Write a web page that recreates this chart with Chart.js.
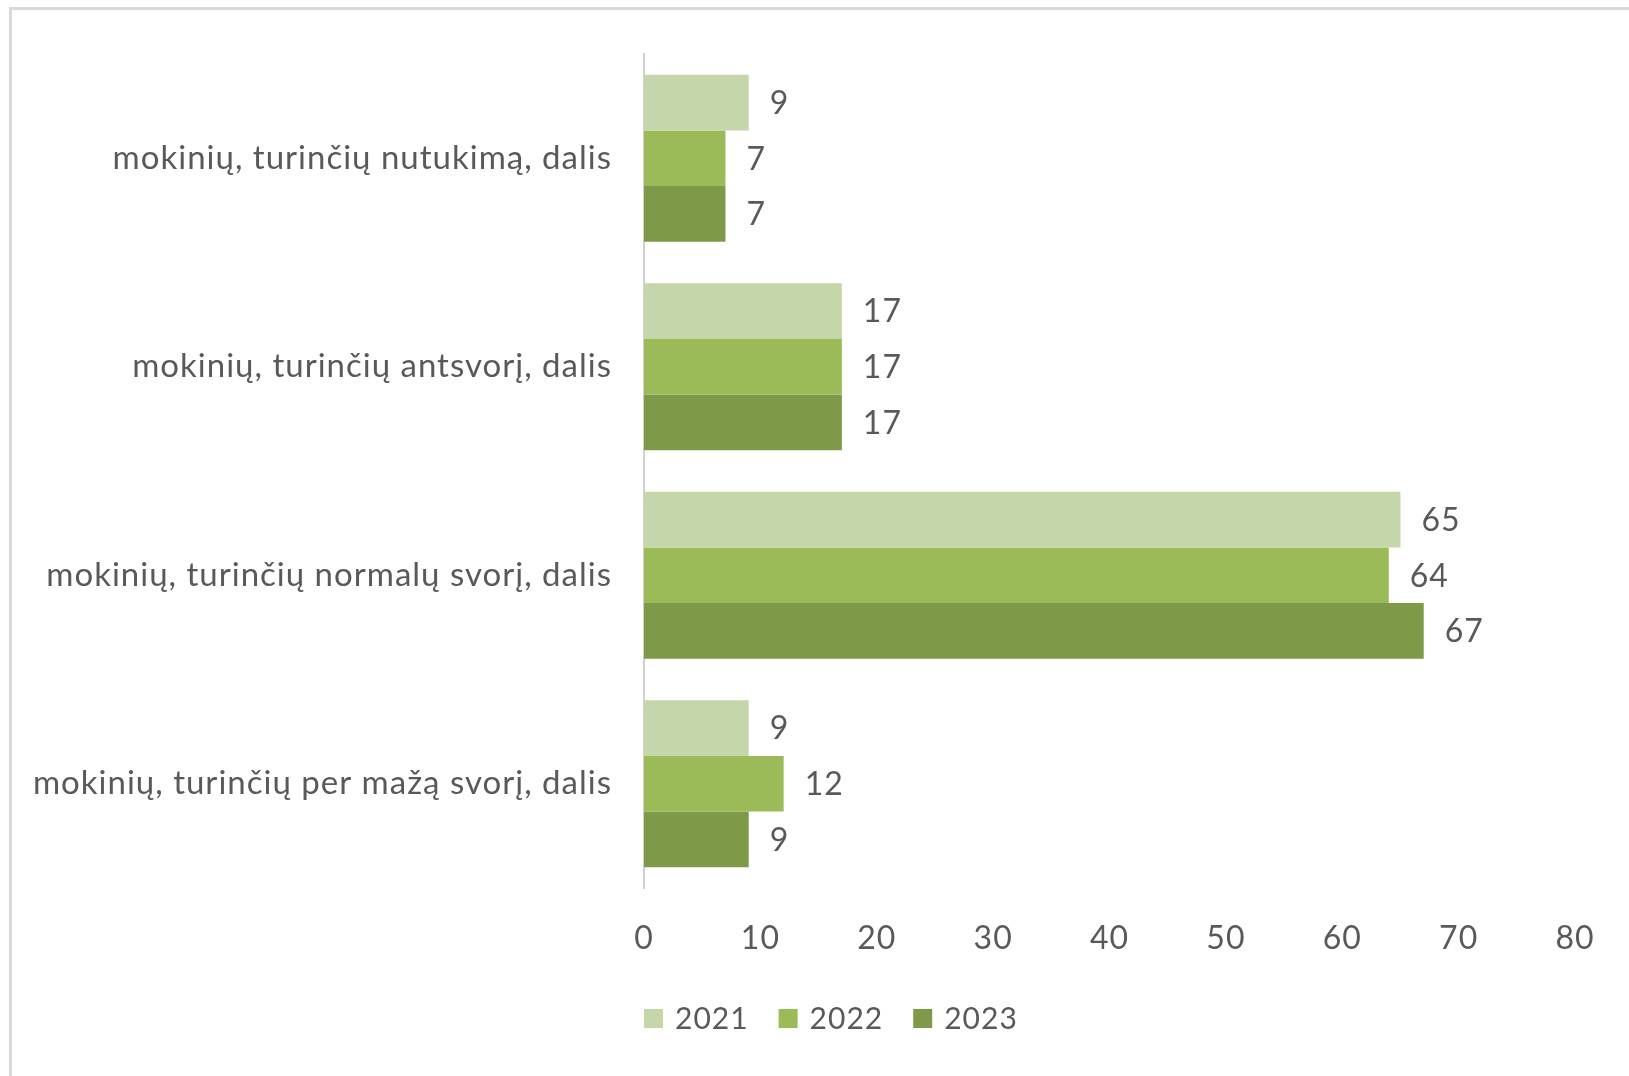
<!DOCTYPE html>
<html>
<head>
<meta charset="utf-8">
<script src="https://cdn.jsdelivr.net/npm/chart.js@4"></script>
<style>
  html, body { margin: 0; padding: 0; background: #fff; overflow: hidden; }
  #frame { position: absolute; left: 9px; top: 7px; width: 1700px; height: 1200px; border: 3px solid #d9d9d9; }
  #wrap { position: absolute; left: 0; top: 0; width: 1629px; height: 1076px; }
</style>
</head>
<body>
<div id="frame"></div>
<div id="wrap"><canvas id="chart"></canvas></div>
<script>
const categories = [
  "mokinių, turinčių nutukimą, dalis",
  "mokinių, turinčių antsvorį, dalis",
  "mokinių, turinčių normalų svorį, dalis",
  "mokinių, turinčių per mažą svorį, dalis"
];
const years = ["2021", "2022", "2023"];
const values2021 = [9, 17, 65, 9];
const values2022 = [7, 17, 64, 12];
const values2023 = [7, 17, 67, 9];
const colors = ["#c5d6ab", "#9bbb59", "#7e9a48"];
const xTicks = [0, 10, 20, 30, 40, 50, 60, 70, 80];

const FONT = "Lato, 'Open Sans', sans-serif";
const TEXT = "#595959";

// slightly spaced letters, closer to the original office font
const spacing = {
  id: "spacing",
  beforeDraw(chart) { chart.ctx.letterSpacing = "1px"; }
};

// value labels to the right of each bar
const valueLabels = {
  id: "valueLabels",
  afterDatasetsDraw(chart) {
    const ctx = chart.ctx;
    ctx.save();
    ctx.font = "32px " + FONT;
    ctx.fillStyle = TEXT;
    ctx.textAlign = "left";
    ctx.textBaseline = "middle";
    chart.data.datasets.forEach((ds, i) => {
      chart.getDatasetMeta(i).data.forEach((bar, j) => {
        ctx.fillText(ds.data[j], bar.x + 21, bar.y + 1);
      });
    });
    ctx.restore();
  }
};

// legend drawn under the axis, starting at the value axis origin
const bottomLegend = {
  id: "bottomLegend",
  afterDraw(chart) {
    const ctx = chart.ctx;
    const y = 1018;
    let x = chart.scales.x.getPixelForValue(0);
    ctx.save();
    ctx.font = "30px " + FONT;
    ctx.textBaseline = "middle";
    chart.data.datasets.forEach((ds) => {
      ctx.fillStyle = ds.backgroundColor;
      ctx.fillRect(x, y - 9, 19, 19);
      ctx.fillStyle = TEXT;
      ctx.fillText(ds.label, x + 31, y + 1);
      x += 31 + ctx.measureText(ds.label).width + 30;
    });
    ctx.restore();
  }
};

new Chart(document.getElementById("chart"), {
  type: "bar",
  data: {
    labels: categories,
    datasets: [
      { label: years[0], data: values2021, backgroundColor: colors[0] },
      { label: years[1], data: values2022, backgroundColor: colors[1] },
      { label: years[2], data: values2023, backgroundColor: colors[2] }
    ]
  },
  options: {
    indexAxis: "y",
    responsive: true,
    maintainAspectRatio: false,
    animation: false,
    categoryPercentage: 0.8,
    barPercentage: 1.0,
    layout: { padding: { top: 54, left: 10, right: 54, bottom: 0 } },
    plugins: {
      legend: { display: false },
      tooltip: { enabled: false }
    },
    scales: {
      x: {
        min: 0,
        max: 80,
        afterBuildTicks: (scale) => { scale.ticks = xTicks.map((v) => ({ value: v })); },
        afterFit: (scale) => { scale.height = 188; },
        grid: { display: false, drawTicks: false },
        border: { display: false },
        ticks: { color: TEXT, font: { family: FONT, size: 32 }, padding: 31, maxRotation: 0 }
      },
      y: {
        afterFit: (scale) => { scale.width = 634; },
        grid: { display: false, drawTicks: false },
        border: { display: true, color: "#d0d0d0", width: 2 },
        ticks: { color: TEXT, font: { family: FONT, size: 33 }, padding: 32 }
      }
    }
  },
  plugins: [spacing, valueLabels, bottomLegend]
});
</script>
</body>
</html>
